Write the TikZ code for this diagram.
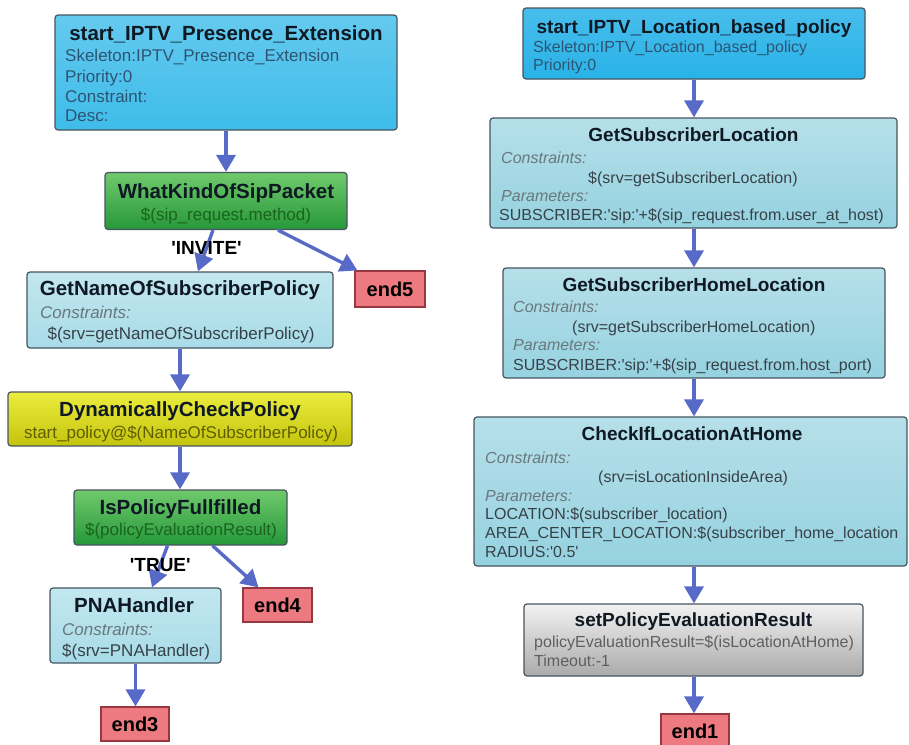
\documentclass[tikz,border=0pt]{standalone}
\usepackage{fontspec}
\setmainfont{Liberation Sans}
\usetikzlibrary{arrows.meta}
\definecolor{arrcol}{RGB}{88,106,200}
\definecolor{bord}{RGB}{70,85,95}
\definecolor{startfill}{RGB}{62,188,234}
\definecolor{startfillR}{RGB}{40,178,232}
\definecolor{lbL}{RGB}{168,220,232}
\definecolor{lbR}{RGB}{150,210,224}
\definecolor{grTop}{RGB}{112,202,108}
\definecolor{grBot}{RGB}{38,152,58}
\definecolor{yeTop}{RGB}{236,236,62}
\definecolor{yeBot}{RGB}{196,196,14}
\definecolor{gyTop}{RGB}{242,242,242}
\definecolor{gyBot}{RGB}{170,170,170}
\definecolor{endfill}{RGB}{236,122,128}
\definecolor{endbord}{RGB}{150,55,65}
\definecolor{bodyblue}{RGB}{45,85,115}
\definecolor{consgray}{RGB}{105,120,125}
\definecolor{bodydark}{RGB}{55,65,72}
\definecolor{dkgreen}{RGB}{25,100,30}
\definecolor{olivetxt}{RGB}{95,95,0}
\definecolor{gytext}{RGB}{95,95,95}
\definecolor{ttlcol}{RGB}{15,25,35}
\newcommand{\myq}{\textquotesingle}
\begin{document}
\begin{tikzpicture}[x=1pt,y=-1pt,
  box/.style={draw=bord, line width=1.2pt, rounded corners=3pt, inner sep=0pt},
  startbox/.style={box, top color=startfill!80!white, bottom color=startfill},
  startboxR/.style={box, top color=startfillR!85!white, bottom color=startfillR},
  lbboxL/.style={box, top color=lbL!70!white, bottom color=lbL},
  lbboxR/.style={box, top color=lbR!70!white, bottom color=lbR},
  greenbox/.style={box, top color=grTop, bottom color=grBot},
  yellowbox/.style={box, top color=yeTop, bottom color=yeBot},
  graybox/.style={box, top color=gyTop, bottom color=gyBot},
  endbox/.style={draw=endbord, line width=1.2pt, fill=endfill, inner sep=0pt,
     minimum width=68pt, minimum height=34pt, text height=14pt, text depth=0pt,
     font=\fontsize{20}{24}\selectfont\bfseries, text=black},
  tl/.style={inner sep=0pt, text height=14.7pt, text depth=0pt, font=\fontsize{20.5}{24}\selectfont\bfseries, text=ttlcol},
  tr/.style={inner sep=0pt, text height=13.6pt, text depth=0pt, font=\fontsize{19}{22}\selectfont\bfseries, text=ttlcol},
  bcL/.style={inner sep=0pt, text height=12.2pt, text depth=0pt, font=\fontsize{17}{20}\selectfont},
  blL/.style={bcL, anchor=west},
  blR/.style={inner sep=0pt, text height=11.5pt, text depth=0pt, font=\fontsize{16}{19}\selectfont, anchor=west},
  consL/.style={blL, text=consgray, font=\fontsize{17}{20}\selectfont\itshape},
  consR/.style={blR, text=consgray, font=\fontsize{16}{19}\selectfont\itshape},
  arr/.style={draw=arrcol, line width=3.4pt, -{Triangle[width=19pt,length=17pt]}},
  lbl/.style={inner sep=0pt, text height=13.6pt, text depth=0pt, font=\fontsize{19}{22}\selectfont\bfseries, text=black}
]
\useasboundingbox (0,0) rectangle (909,744);
\fill[white] (0,0) rectangle (909,744);

% ---------- left column ----------
\node[startbox, minimum width=342pt, minimum height=115pt] (s1) at (226,72.5) {};
\node[tl] (s1t) at (226,33) {start\_IPTV\_Presence\_Extension};
\node[blL, text=bodyblue] (s1a) at (65,55) {Skeleton:IPTV\_Presence\_Extension};
\node[blL, text=bodyblue] (s1b) at (65,76) {Priority:0};
\node[blL, text=bodyblue] (s1c) at (65,96) {Constraint:};
\node[blL, text=bodyblue] (s1d) at (65,115) {Desc:};

\node[greenbox, minimum width=242pt, minimum height=57pt] (wk) at (226,201) {};
\node[tl] (wkt) at (226,191) {WhatKindOfSipPacket};
\node[bcL, text=dkgreen] (wka) at (226,214) {\$(sip\_request.method)};

\node[lbboxL, minimum width=306pt, minimum height=76pt] (gn) at (180,310) {};
\node[tl] (gnt) at (180,288) {GetNameOfSubscriberPolicy};
\node[consL] (gna) at (40,312) {Constraints:};
\node[bcL, text=bodydark] (gnb) at (181,333) {\$(srv=getNameOfSubscriberPolicy)};

\node[endbox, minimum width=70pt, minimum height=36pt] (e5) at (390,289) {end5};

\node[yellowbox, minimum width=344pt, minimum height=54pt] (dc) at (180,419) {};
\node[tl] (dct) at (180,409) {DynamicallyCheckPolicy};
\node[bcL, text=olivetxt] (dca) at (181,432) {start\_policy@\$(NameOfSubscriberPolicy)};

\node[greenbox, minimum width=213pt, minimum height=55pt] (ip) at (180.5,517.5) {};
\node[tl] (ipt) at (180.5,507) {IsPolicyFullfilled};
\node[bcL, text=dkgreen] (ipa) at (181,529) {\$(policyEvaluationResult)};

\node[lbboxL, minimum width=171pt, minimum height=75pt] (pn) at (135.5,625.5) {};
\node[tl] (pnt) at (134,605) {PNAHandler};
\node[consL] (pna) at (62,629) {Constraints:};
\node[blL, text=bodydark] (pnb) at (62,650) {\$(srv=PNAHandler)};

\node[endbox, minimum width=69pt] (e4) at (277.5,605) {end4};
\node[endbox] (e3) at (135,724) {end3};

% ---------- right column ----------
\node[startboxR, minimum width=342pt, minimum height=71pt] (s2) at (694,43.5) {};
\node[tr] (s2t) at (694,27) {start\_IPTV\_Location\_based\_policy};
\node[blR, text=bodyblue] (s2a) at (533,47) {Skeleton:IPTV\_Location\_based\_policy};
\node[blR, text=bodyblue] (s2b) at (533,65) {Priority:0};

\node[lbboxR, minimum width=407pt, minimum height=110pt] (gl) at (693.5,173) {};
\node[tr] (glt) at (693.5,135) {GetSubscriberLocation};
\node[consR] (gla) at (501,158) {Constraints:};
\node[blR, text=bodydark] (glb) at (588,178) {\$(srv=getSubscriberLocation)};
\node[consR] (glc) at (501,196) {Parameters:};
\node[blR, text=bodydark] (gld) at (499,215) {SUBSCRIBER:\myq sip:\myq+\$(sip\_request.from.user\_at\_host)};

\node[lbboxR, minimum width=382pt, minimum height=110pt] (gh) at (694,323) {};
\node[tr] (ght) at (694,285) {GetSubscriberHomeLocation};
\node[consR] (gha) at (513,307) {Constraints:};
\node[blR, text=bodydark] (ghb) at (572,327) {(srv=getSubscriberHomeLocation)};
\node[consR] (ghc) at (513,345) {Parameters:};
\node[blR, text=bodydark] (ghd) at (513,365) {SUBSCRIBER:\myq sip:\myq+\$(sip\_request.from.host\_port)};

\node[lbboxR, minimum width=433pt, minimum height=149pt] (ck) at (690.5,491.5) {};
\node[tr] (ckt) at (692,434) {CheckIfLocationAtHome};
\node[consR] (cka) at (485,458) {Constraints:};
\node[blR, text=bodydark] (ckb) at (598,477) {(srv=isLocationInsideArea)};
\node[consR] (ckc) at (485,496) {Parameters:};
\node[blR, text=bodydark] (ckd) at (485,514) {LOCATION:\$(subscriber\_location)};
\node[blR, text=bodydark] (cke) at (485,533) {AREA\_CENTER\_LOCATION:\$(subscriber\_home\_location};
\node[blR, text=bodydark] (ckf) at (485,552) {RADIUS:\myq0.5\myq};

\node[graybox, minimum width=339pt, minimum height=72pt] (sp) at (693.5,640) {};
\node[tr] (spt) at (693.5,620) {setPolicyEvaluationResult};
\node[blR, text=gytext] (spa) at (534,642) {policyEvaluationResult=\$(isLocationAtHome)};
\node[blR, text=gytext] (spb) at (534,661) {Timeout:-1};

\node[endbox] (e1) at (695,731) {end1};

% ---------- connectors ----------
\draw[arr] (s1.south) -- (wk.north);
\draw[arr] ([xshift=-13pt]wk.south) -- node[lbl, pos=0.43] (lab1) {\myq INVITE\myq} ([xshift=18pt]gn.north);
\draw[arr] ([xshift=52pt]wk.south) -- ([xshift=3pt]e5.north west);
\draw[arr] (gn.south) -- (dc.north);
\draw[arr] (dc.south) -- (dc.south |- ip.north);
\draw[arr] ([xshift=-13pt]ip.south) -- node[lbl, pos=0.465] (lab2) {\myq TRUE\myq} ([xshift=16.5pt]pn.north);
\draw[arr] ([xshift=32pt]ip.south) -- ([xshift=-19pt]e4.north);
\draw[arr] (pn.south) -- (pn.south |- e3.north);

\draw[arr] (s2.south) -- (s2.south |- gl.north);
\draw[arr] (s2.south |- gl.south) -- (s2.south |- gh.north);
\draw[arr] (s2.south |- gh.south) -- (s2.south |- ck.north);
\draw[arr] (s2.south |- ck.south) -- (s2.south |- sp.north);
\draw[arr] (s2.south |- sp.south) -- (s2.south |- e1.north);
\end{tikzpicture}
\end{document}
